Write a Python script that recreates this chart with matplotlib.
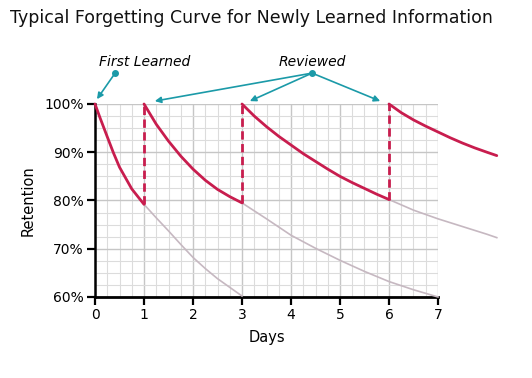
import matplotlib.pyplot as plt
import numpy as np

# values (days, retention %)
days_red1 = [0, 0.1, 0.25, 0.375, 0.5, 0.75, 1.0]
ret_red1 = [100, 97.2, 93.2, 89.9, 86.9, 82.4, 79.2]

days_gray1 = [1, 1.25, 1.5, 1.75, 2, 2.25, 2.5, 2.75, 3]
ret_gray1 = [79.2, 76.4, 73.7, 70.9, 68.2, 65.9, 63.8, 62.0, 60.2]

days_red2 = [1, 1.25, 1.5, 1.75, 2, 2.25, 2.5, 2.75, 3]
ret_red2 = [100, 95.8, 92.3, 89.2, 86.5, 84.2, 82.3, 80.8, 79.5]

days_gray2 = [3, 3.5, 4, 4.5, 5, 5.5, 6, 6.5, 7]
ret_gray2 = [79.5, 76.2, 72.8, 70.1, 67.6, 65.3, 63.2, 61.5, 60.0]

days_red3 = [3, 3.25, 3.5, 3.75, 4, 4.25, 4.5, 4.75, 5, 5.25, 5.5, 5.75, 6]
ret_red3 = [100, 97.5, 95.3, 93.3, 91.5, 89.7, 88.1, 86.5, 85.0, 83.7, 82.5, 81.3, 80.2]

days_gray3 = [6, 6.5, 7, 7.5, 8, 8.2]
ret_gray3 = [80.2, 78.0, 76.2, 74.6, 73.0, 72.3]

days_red4 = [6, 6.25, 6.5, 6.75, 7, 7.25, 7.5, 7.75, 8, 8.2]
ret_red4 = [100, 98.2, 96.7, 95.4, 94.2, 93.0, 91.9, 90.9, 90.0, 89.3]

review_days = [1, 3, 6]
review_lows = [79.2, 79.5, 80.2]

red = '#c81d4e'
gray = '#c6b8c1'
teal = '#1b9aa8'

fig = plt.figure(figsize=(5.32, 3.78), dpi=100)
ax = fig.add_axes([0.1786, 0.2143, 0.6447, 0.5106])

ax.set_xlim(0, 7)
ax.set_ylim(60, 100)

# graph paper grid
ax.set_xticks(np.arange(0, 7.01, 0.25), minor=True)
ax.set_yticks(np.arange(60, 100.01, 2.5), minor=True)
ax.set_xticks(range(0, 8))
ax.set_yticks([60, 70, 80, 90, 100])
ax.set_yticklabels(['60%', '70%', '80%', '90%', '100%'])
ax.grid(which='minor', color='#dcdcdc', lw=0.8)
ax.grid(which='major', color='#c6c6c6', lw=1.0)
ax.set_axisbelow(True)

for s in ['top', 'right']:
    ax.spines[s].set_visible(False)
ax.spines['left'].set_linewidth(1.8)
ax.spines['bottom'].set_linewidth(2.0)
ax.tick_params(which='major', length=6, width=1.6, labelsize=10, color='black', pad=2)
ax.tick_params(which='minor', length=0)

# faded continuations
for d, r in [(days_gray1, ret_gray1), (days_gray2, ret_gray2), (days_gray3, ret_gray3)]:
    ax.plot(d, r, color=gray, lw=1.2, clip_on=False, zorder=3)

# retention after learning / reviews
for d, r in [(days_red1, ret_red1), (days_red2, ret_red2), (days_red3, ret_red3), (days_red4, ret_red4)]:
    ax.plot(d, r, color=red, lw=2.0, clip_on=False, solid_capstyle='round', zorder=4)

for d, lo in zip(review_days, review_lows):
    ax.plot([d, d], [lo, 100], color=red, lw=2.0, ls=(0, (3, 1.6)), zorder=4)

ax.set_xlabel('Days', fontsize=10.5, labelpad=6)
ax.set_ylabel('Retention', fontsize=10.5, labelpad=6)

fig.text(0.019, 0.952, 'Typical Forgetting Curve for Newly Learned Information',
         fontsize=12.5, ha='left', va='center', color='#111111')

# annotations
ax.text(1.02, 108.7, 'First Learned', fontsize=10, style='italic', ha='center', va='center', clip_on=False)
ax.text(4.43, 108.7, 'Reviewed', fontsize=10, style='italic', ha='center', va='center', clip_on=False)

arrow = dict(arrowstyle='-|>', color=teal, lw=1.2, mutation_scale=9, shrinkA=0, shrinkB=0)
ax.annotate('', xy=(0.04, 101.0), xytext=(0.41, 106.4), arrowprops=arrow, annotation_clip=False)
ax.plot([0.41], [106.4], 'o', color=teal, ms=4, clip_on=False)
for tip in [1.22, 3.16, 5.82]:
    ax.annotate('', xy=(tip, 100.6), xytext=(4.43, 106.4), arrowprops=arrow, annotation_clip=False)
ax.plot([4.43], [106.4], 'o', color=teal, ms=4, clip_on=False)

fig.savefig('out.png', dpi=100)
